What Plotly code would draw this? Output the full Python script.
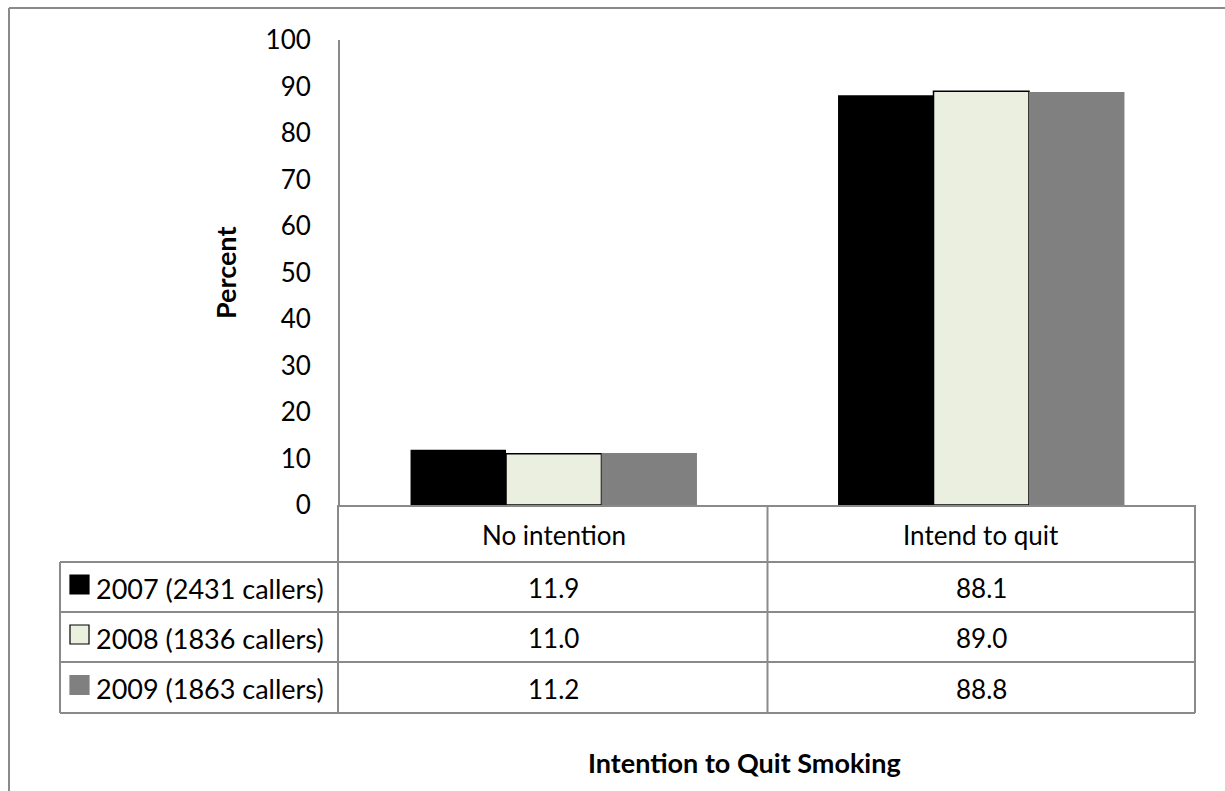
import plotly.graph_objects as go

# Survey results: intention to quit smoking among quitline callers
categories = ["No intention", "Intend to quit"]
series_names = ["2007 (2431 callers)", "2008 (1836 callers)", "2009 (1863 callers)"]
values_2007 = [11.9, 88.1]
values_2008 = [11.0, 89.0]
values_2009 = [11.2, 88.8]
y_ticks = [0, 10, 20, 30, 40, 50, 60, 70, 80, 90, 100]

series_values = [values_2007, values_2008, values_2009]
fills = ["#000000", "#EBEFDF", "#808080"]
outlines = ["#000000", "#000000", "#808080"]
outline_w = [0, 1.5, 0]

FONT = "Lato"
GRID = "#8a8a8a"
TXT = 26

WIDTH, HEIGHT = 1225, 791
LEFT, RIGHT, TOP, BOTTOM = 340, 1195, 40, 505
PW, PH = RIGHT - LEFT, BOTTOM - TOP


def fx(px):
    return (px - LEFT) / PW


def fy(py):
    return (BOTTOM - py) / PH


fig = go.Figure()
for name, vals, fc, lc, lw in zip(series_names, series_values, fills, outlines, outline_w):
    fig.add_trace(go.Bar(
        x=categories, y=vals, name=name,
        marker=dict(color=fc, line=dict(color=lc, width=lw)),
        showlegend=False,
    ))

shapes = []


def line(x0, y0, x1, y1, w=2, color=GRID):
    shapes.append(dict(type="line", xref="paper", yref="paper",
                       x0=fx(x0), y0=fy(y0), x1=fx(x1), y1=fy(y1),
                       line=dict(color=color, width=w)))


def label(px, py, text, size=TXT, xanchor="center", angle=0):
    annotations.append(dict(xref="paper", yref="paper", x=fx(px), y=fy(py),
                            text=text, showarrow=False, textangle=angle,
                            xanchor=xanchor, yanchor="middle",
                            font=dict(family=FONT, size=size, color="#000")))


# outer chart border (left and top edges)
line(9, 8, 9, 800)
line(9, 8, 1240, 8)

# data table grid
row_lines = [562, 612, 662, 713]
col_split = (LEFT + RIGHT) / 2
line(338, BOTTOM, 338, 713)
line(col_split, BOTTOM, col_split, 713)
line(RIGHT, BOTTOM, RIGHT, 713)
line(60, 562, 60, 713)
for ry in row_lines:
    line(60, ry, RIGHT, ry)

annotations = []
cat_centers = [LEFT + PW * (i + 0.5) / len(categories) for i in range(len(categories))]
for cx, cat in zip(cat_centers, categories):
    label(cx, 535, cat)

row_centers = [(row_lines[i] + row_lines[i + 1]) / 2 for i in range(3)]
for ry, name, vals, fc in zip(row_centers, series_names, series_values, fills):
    # legend key square
    shapes.append(dict(type="rect", xref="paper", yref="paper",
                       x0=fx(70), x1=fx(89), y0=fy(ry - 12), y1=fy(ry + 7),
                       fillcolor=fc,
                       line=dict(color="#000000" if fc == "#EBEFDF" else fc, width=1.2)))
    label(94, ry + 1, name, size=27, xanchor="left")
    for cx, v in zip(cat_centers, vals):
        label(cx, ry + 1, f"{v:.1f}")

label(225, 273, "<b>Percent</b>", size=27, angle=-90)
label(744, 762, "<b>Intention to Quit Smoking</b>", size=27)

fig.update_layout(
    width=WIDTH, height=HEIGHT,
    margin=dict(l=LEFT, r=WIDTH - RIGHT, t=TOP, b=HEIGHT - BOTTOM, pad=0),
    paper_bgcolor="white", plot_bgcolor="white",
    barmode="group", bargap=0.33, bargroupgap=0,
    shapes=shapes, annotations=annotations,
    font=dict(family=FONT, size=TXT, color="#000"),
    xaxis=dict(showticklabels=False, ticks="", showgrid=False, zeroline=False,
               showline=True, linecolor=GRID, linewidth=2),
    yaxis=dict(range=[0, 100], tickvals=y_ticks, ticks="", showgrid=False,
               zeroline=False, showline=True, linecolor=GRID, linewidth=2,
               ticklabelstandoff=22, tickfont=dict(family=FONT, size=TXT)),
)

fig.write_html("out.html")
